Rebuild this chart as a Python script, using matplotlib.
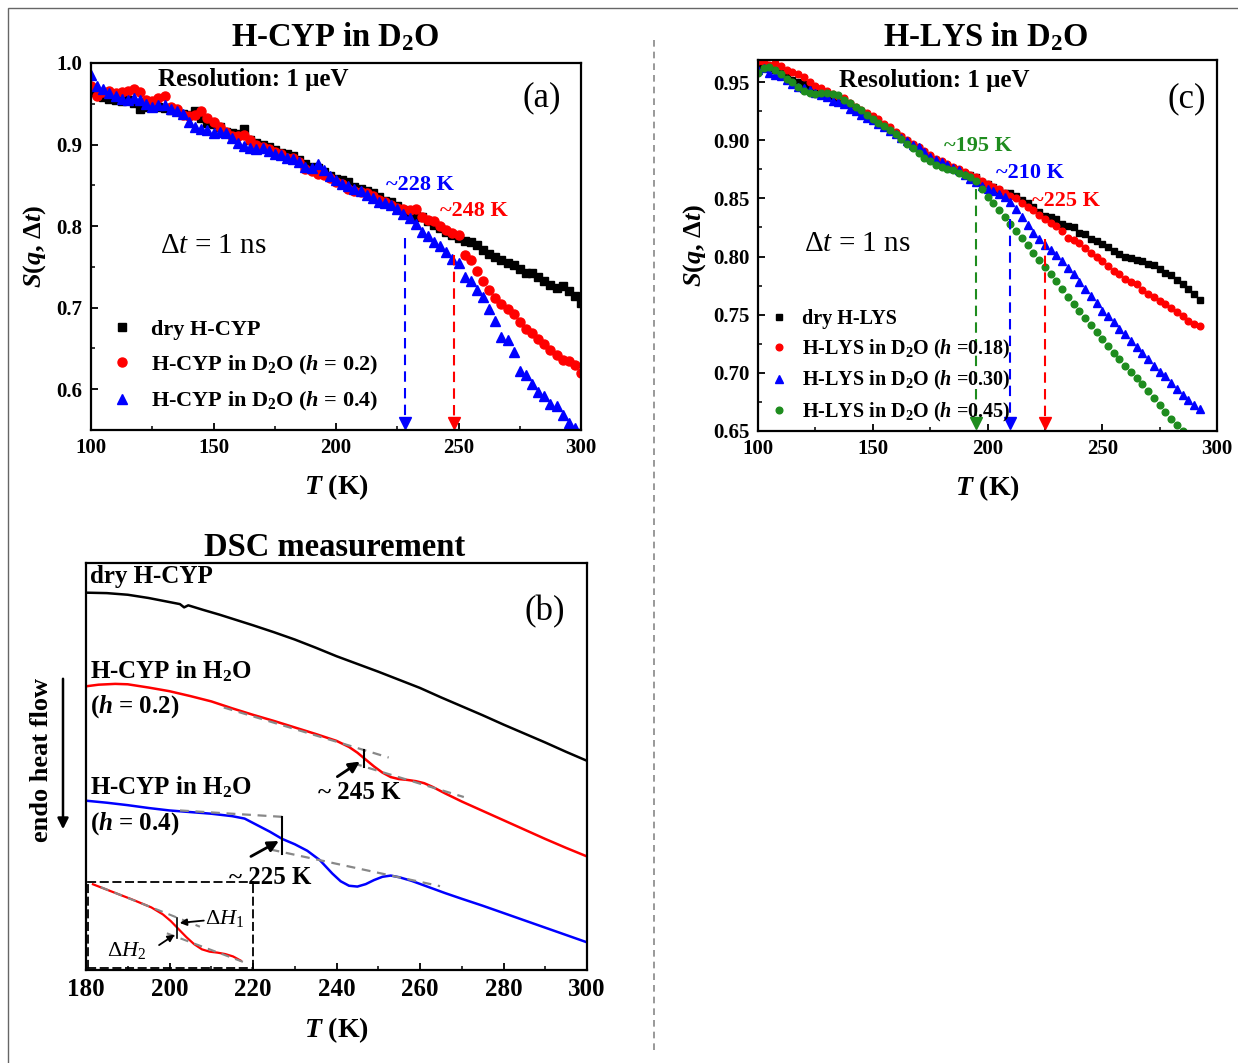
import numpy as np
import matplotlib
matplotlib.use("Agg")
import matplotlib.pyplot as plt
from matplotlib.patches import Rectangle, FancyArrowPatch
from matplotlib.lines import Line2D

plt.rcParams['font.family'] = ['Liberation Serif', 'DejaVu Serif']
plt.rcParams['mathtext.fontset'] = 'custom'
plt.rcParams['mathtext.rm'] = 'Liberation Serif'
plt.rcParams['mathtext.it'] = 'Liberation Serif:italic'
plt.rcParams['mathtext.bf'] = 'Liberation Serif:bold'
plt.rcParams['mathtext.bfit'] = 'Liberation Serif:italic:bold'

# ---------------- panel (a): H-CYP in D2O ----------------
t_cyp = np.arange(100, 300.1, 2.5)
s_cyp_dry = [0.965, 0.962, 0.958, 0.956, 0.955, 0.953, 0.955, 0.951, 0.944, 0.946,
             0.948, 0.946, 0.945, 0.942, 0.941, 0.938, 0.936, 0.941, 0.932, 0.926,
             0.925, 0.921, 0.916, 0.914, 0.913, 0.919, 0.906, 0.902, 0.900, 0.897,
             0.893, 0.890, 0.888, 0.886, 0.881, 0.876, 0.873, 0.871, 0.866, 0.862,
             0.858, 0.857, 0.854, 0.848, 0.845, 0.843, 0.840, 0.836, 0.831, 0.829,
             0.825, 0.820, 0.816, 0.813, 0.811, 0.806, 0.801, 0.798, 0.793, 0.789,
             0.786, 0.782, 0.780, 0.777, 0.771, 0.766, 0.762, 0.758, 0.755, 0.752,
             0.748, 0.743, 0.742, 0.737, 0.733, 0.728, 0.724, 0.726, 0.720, 0.714,
             0.706]
s_cyp_h02 = [0.972, 0.960, 0.965, 0.966, 0.963, 0.964, 0.966, 0.968, 0.964, 0.955,
             0.953, 0.957, 0.960, 0.946, 0.944, 0.936, 0.935, 0.936, 0.941, 0.932,
             0.928, 0.922, 0.915, 0.911, 0.910, 0.912, 0.906, 0.899, 0.897, 0.895,
             0.891, 0.888, 0.884, 0.883, 0.878, 0.870, 0.867, 0.864, 0.863, 0.859,
             0.854, 0.852, 0.846, 0.843, 0.842, 0.840, 0.837, 0.832, 0.829, 0.826,
             0.822, 0.821, 0.820, 0.821, 0.811, 0.808, 0.806, 0.800, 0.795, 0.792,
             0.789, 0.765, 0.758, 0.745, 0.733, 0.722, 0.712, 0.705, 0.698, 0.692,
             0.683, 0.674, 0.669, 0.662, 0.656, 0.648, 0.642, 0.636, 0.635, 0.630,
             0.620]
s_cyp_h04 = [0.985, 0.972, 0.968, 0.963, 0.960, 0.956, 0.955, 0.957, 0.955, 0.950,
             0.946, 0.949, 0.948, 0.944, 0.941, 0.938, 0.928, 0.922, 0.919, 0.918,
             0.914, 0.916, 0.914, 0.908, 0.902, 0.898, 0.896, 0.894, 0.896, 0.892,
             0.889, 0.887, 0.883, 0.882, 0.878, 0.873, 0.871, 0.876, 0.869, 0.862,
             0.856, 0.852, 0.849, 0.845, 0.843, 0.838, 0.834, 0.829, 0.828, 0.826,
             0.821, 0.815, 0.810, 0.803, 0.793, 0.788, 0.780, 0.775, 0.768, 0.760,
             0.755, 0.738, 0.733, 0.722, 0.713, 0.698, 0.684, 0.664, 0.660, 0.646,
             0.622, 0.617, 0.607, 0.597, 0.592, 0.582, 0.580, 0.568, 0.558, 0.553,
             0.549]
cyp_onset_t = [228, 248]
cyp_onset_s = [0.786, 0.765]

# ---------------- panel (c): H-LYS in D2O ----------------
t_lys = np.arange(100, 292.6, 2.5)
s_lys_dry = [0.965, 0.963, 0.962, 0.960, 0.958, 0.955, 0.952, 0.950, 0.948, 0.946,
             0.944, 0.942, 0.940, 0.938, 0.936, 0.934, 0.931, 0.926, 0.924, 0.921,
             0.918, 0.915, 0.912, 0.908, 0.905, 0.903, 0.899, 0.896, 0.893, 0.890,
             0.886, 0.883, 0.880, 0.878, 0.876, 0.873, 0.871, 0.870, 0.868, 0.864,
             0.862, 0.860, 0.857, 0.855, 0.855, 0.852, 0.849, 0.846, 0.843, 0.838,
             0.835, 0.834, 0.832, 0.828, 0.826, 0.825, 0.820, 0.819, 0.815, 0.813,
             0.811, 0.808, 0.805, 0.802, 0.800, 0.799, 0.797, 0.796, 0.794, 0.793,
             0.789, 0.786, 0.784, 0.780, 0.776, 0.772, 0.768, 0.763]
s_lys_h018 = [0.968, 0.967, 0.965, 0.966, 0.964, 0.960, 0.959, 0.957, 0.954, 0.950,
              0.947, 0.945, 0.942, 0.940, 0.938, 0.936, 0.932, 0.929, 0.926, 0.923,
              0.921, 0.918, 0.914, 0.911, 0.907, 0.904, 0.900, 0.897, 0.894, 0.891,
              0.887, 0.884, 0.882, 0.880, 0.877, 0.875, 0.873, 0.870, 0.868, 0.865,
              0.862, 0.860, 0.858, 0.855, 0.852, 0.850, 0.846, 0.843, 0.840, 0.836,
              0.832, 0.829, 0.826, 0.822, 0.816, 0.814, 0.812, 0.807, 0.803, 0.800,
              0.796, 0.792, 0.788, 0.785, 0.781, 0.778, 0.776, 0.771, 0.768, 0.765,
              0.762, 0.759, 0.756, 0.752, 0.749, 0.745, 0.742, 0.740]
s_lys_h030 = [0.960, 0.962, 0.958, 0.956, 0.955, 0.952, 0.948, 0.946, 0.945, 0.943,
              0.941, 0.939, 0.937, 0.934, 0.933, 0.931, 0.927, 0.925, 0.922, 0.919,
              0.917, 0.914, 0.911, 0.908, 0.905, 0.902, 0.899, 0.896, 0.894, 0.890,
              0.886, 0.883, 0.881, 0.879, 0.876, 0.874, 0.870, 0.867, 0.864, 0.861,
              0.858, 0.856, 0.854, 0.851, 0.847, 0.841, 0.834, 0.827, 0.820, 0.815,
              0.810, 0.806, 0.801, 0.796, 0.790, 0.785, 0.778, 0.772, 0.766, 0.760,
              0.753, 0.749, 0.744, 0.738, 0.733, 0.727, 0.722, 0.717, 0.712, 0.706,
              0.701, 0.697, 0.691, 0.686, 0.681, 0.677, 0.672, 0.669]
s_lys_h045 = [0.958, 0.962, 0.963, 0.960, 0.957, 0.953, 0.950, 0.946, 0.942, 0.941,
              0.940, 0.941, 0.941, 0.940, 0.939, 0.935, 0.932, 0.929, 0.926, 0.922,
              0.918, 0.915, 0.912, 0.909, 0.905, 0.901, 0.897, 0.893, 0.889, 0.885,
              0.882, 0.879, 0.877, 0.875, 0.874, 0.872, 0.870, 0.868, 0.865, 0.858,
              0.851, 0.846, 0.840, 0.834, 0.828, 0.822, 0.816, 0.810, 0.803, 0.797,
              0.791, 0.785, 0.779, 0.772, 0.765, 0.759, 0.753, 0.747, 0.741, 0.735,
              0.729, 0.723, 0.717, 0.712, 0.706, 0.701, 0.696, 0.690, 0.684, 0.678,
              0.672, 0.666, 0.660, 0.655, 0.650, 0.645, 0.640, 0.635]
lys_onset_t = [195, 210, 225]
lys_onset_s = [0.858, 0.832, 0.815]

# ---------------- panel (b): DSC ----------------
t_dsc_dry = [180.5, 185, 190, 195, 200, 202.5, 203.5, 204.5, 208, 212, 216, 220, 225, 230,
             235, 240, 245, 250, 255, 260, 265, 270, 275, 280, 285, 290, 295, 300]
q_dsc_dry = [0.927, 0.926, 0.922, 0.914, 0.904, 0.899, 0.891, 0.896, 0.885, 0.873, 0.860,
             0.847, 0.830, 0.812, 0.792, 0.771, 0.752, 0.733, 0.713, 0.693, 0.670, 0.648,
             0.626, 0.603, 0.581, 0.559, 0.536, 0.514]
t_dsc_h02 = [180, 183, 187, 190, 195, 200, 205, 210, 215, 220, 225, 230, 235, 240, 243, 245,
             247, 249, 251, 253, 255, 257, 259, 261, 263, 266, 270, 275, 280, 285, 290, 295, 300]
q_dsc_h02 = [0.697, 0.701, 0.703, 0.702, 0.694, 0.685, 0.673, 0.660, 0.643, 0.627, 0.612,
             0.596, 0.580, 0.563, 0.548, 0.534, 0.517, 0.500, 0.485, 0.474, 0.469, 0.467,
             0.464, 0.459, 0.450, 0.434, 0.414, 0.391, 0.368, 0.345, 0.322, 0.300, 0.279]
t_dsc_h04 = [180, 185, 190, 195, 200, 205, 210, 215, 218, 221, 224, 227, 230, 233, 236, 239,
             241, 243, 245, 247, 249, 251, 253, 255, 258, 262, 266, 270, 275, 280, 285, 290,
             295, 300]
q_dsc_h04 = [0.416, 0.411, 0.405, 0.398, 0.392, 0.388, 0.384, 0.378, 0.372, 0.356, 0.340,
             0.322, 0.309, 0.293, 0.270, 0.237, 0.218, 0.207, 0.205, 0.211, 0.221, 0.229,
             0.232, 0.228, 0.219, 0.204, 0.189, 0.175, 0.158, 0.140, 0.122, 0.104, 0.086,
             0.068]
# tangent construction lines (T, heat flow)
tan_h02_up = ([213, 252.5], [0.645, 0.522])
tan_h02_lo = ([244, 270.5], [0.508, 0.425])
tan_h04_up = ([202.5, 227.5], [0.392, 0.376])
tan_h04_lo = ([224.2, 264.8], [0.296, 0.206])
tg_h02 = 246.5
tg_h04 = 227
inset_range = (225, 264)

bold = dict(fontweight='bold')
fig = plt.figure(figsize=(12.38, 10.63), dpi=100)
fig.patches.append(Rectangle((8 / 1238, -0.05), 1.2, 1.05 - 8 / 1063, transform=fig.transFigure,
                             fill=False, edgecolor='#666666', lw=1.0))
fig.add_artist(Line2D([654 / 1238, 654 / 1238], [0.012, 0.967], transform=fig.transFigure,
                      color='#888888', lw=1.2, ls=(0, (4, 3))))


def style_axes(ax, fs=15):
    for sp in ax.spines.values():
        sp.set_linewidth(1.6)
    ax.tick_params(which='both', direction='in', top=False, right=False)
    ax.tick_params(which='major', length=5, width=1.3, labelsize=fs, pad=6)
    ax.tick_params(which='minor', length=3, width=1.1)
    for lab in ax.get_xticklabels() + ax.get_yticklabels():
        lab.set_fontweight('bold')


# ---- (a)
ax_a = fig.add_axes([91 / 1238, 1 - 430 / 1063, 490 / 1238, 367 / 1063])
ax_a.plot(t_cyp, s_cyp_dry, 's', color='black', ms=6, label='dry H-CYP')
ax_a.plot(t_cyp, s_cyp_h02, 'o', color='#ff0000', ms=6.5, label='H-CYP in D$_\\mathbf{2}$O ($\\mathbfit{h}$ = 0.2)')
ax_a.plot(t_cyp, s_cyp_h04, '^', color='#0000ff', ms=7, label='H-CYP in D$_\\mathbf{2}$O ($\\mathbfit{h}$ = 0.4)')
ax_a.set_xlim(100, 300)
ax_a.set_ylim(0.55, 1.0)
ax_a.set_xticks([100, 150, 200, 250, 300])
ax_a.set_xticks([125, 175, 225, 275], minor=True)
ax_a.set_yticks([0.6, 0.7, 0.8, 0.9, 1.0])
ax_a.set_yticks([0.65, 0.75, 0.85, 0.95], minor=True)
ax_a.set_yticklabels(['0.6', '0.7', '0.8', '0.9', '1.0'])
style_axes(ax_a)
for t0, s0, c in zip(cyp_onset_t, cyp_onset_s, ['#0000ff', '#ff0000']):
    ax_a.plot([t0, t0], [s0, 0.562], ls=(0, (5, 3)), color=c, lw=1.5)
    ax_a.plot(t0, 0.558, marker='v', color=c, ms=9, clip_on=False)
ax_a.text(220.5, 0.85, '~228 K', color='#0000ff', fontsize=16, va='center', **bold)
ax_a.text(242.5, 0.819, '~248 K', color='#ff0000', fontsize=16, va='center', **bold)
ax_a.text(127.5, 0.98, 'Resolution: 1 μeV', fontsize=18, va='center', **bold)
ax_a.text(284, 0.957, '(a)', fontsize=25, ha='center', va='center')
ax_a.text(128, 0.776, 'Δ$\\mathit{t}$ = 1 ns', fontsize=21, va='center')
ax_a.legend(loc='upper left', bbox_to_anchor=(0.02, 0.325), frameon=False,
            prop={'weight': 'bold', 'size': 16}, handletextpad=0.75, labelspacing=0.6,
            handlelength=1.1, borderaxespad=0)
ax_a.set_xlabel('$\\mathbfit{T}$ (K)', fontsize=20, labelpad=10, **bold)
ax_a.set_ylabel('$\\mathbfit{S}$($\\mathbfit{q}$, Δ$\\mathbfit{t}$)', fontsize=19, labelpad=6, **bold)

# ---- (c)
ax_c = fig.add_axes([758 / 1238, 1 - 431 / 1063, 459 / 1238, 371 / 1063])
ax_c.plot(t_lys, s_lys_dry, 's', color='black', ms=4.8, label='dry H-LYS')
ax_c.plot(t_lys, s_lys_h018, 'o', color='#ff0000', ms=4.8, label='H-LYS in D$_\\mathbf{2}$O ($\\mathbfit{h}$ =0.18)')
ax_c.plot(t_lys, s_lys_h030, '^', color='#0000ff', ms=5.3, label='H-LYS in D$_\\mathbf{2}$O ($\\mathbfit{h}$ =0.30)')
ax_c.plot(t_lys, s_lys_h045, 'o', color='#1e8c1e', ms=4.8, label='H-LYS in D$_\\mathbf{2}$O ($\\mathbfit{h}$ =0.45)')
ax_c.set_xlim(100, 300)
ax_c.set_ylim(0.65, 0.969)
ax_c.set_xticks([100, 150, 200, 250, 300])
ax_c.set_xticks([125, 175, 225, 275], minor=True)
ax_c.set_yticks([0.65, 0.70, 0.75, 0.80, 0.85, 0.90, 0.95])
ax_c.set_yticks([0.675, 0.725, 0.775, 0.825, 0.875, 0.925], minor=True)
ax_c.set_yticklabels(['0.65', '0.70', '0.75', '0.80', '0.85', '0.90', '0.95'])
style_axes(ax_c)
for t0, s0, c in zip(lys_onset_t, lys_onset_s, ['#1e8c1e', '#0000ff', '#ff0000']):
    ax_c.plot([t0, t0], [s0, 0.66], ls=(0, (5, 3)), color=c, lw=1.5)
    ax_c.plot(t0, 0.657, marker='v', color=c, ms=9, clip_on=False)
ax_c.text(181, 0.895, '~195 K', color='#1e8c1e', fontsize=16, va='center', **bold)
ax_c.text(203.5, 0.872, '~210 K', color='#0000ff', fontsize=16, va='center', **bold)
ax_c.text(219.5, 0.848, '~225 K', color='#ff0000', fontsize=16, va='center', **bold)
ax_c.text(135.5, 0.951, 'Resolution: 1 μeV', fontsize=18, va='center', **bold)
ax_c.text(287, 0.936, '(c)', fontsize=25, ha='center', va='center')
ax_c.text(120, 0.811, 'Δ$\\mathit{t}$ = 1 ns', fontsize=21, va='center')
ax_c.legend(loc='upper left', bbox_to_anchor=(0.005, 0.35), frameon=False,
            prop={'weight': 'bold', 'size': 14.5}, handletextpad=0.55, labelspacing=0.42,
            handlelength=1.1, borderaxespad=0)
ax_c.set_xlabel('$\\mathbfit{T}$ (K)', fontsize=20, labelpad=10, **bold)
ax_c.set_ylabel('$\\mathbfit{S}$($\\mathbfit{q}$, Δ$\\mathbfit{t}$)', fontsize=19, labelpad=4, **bold)

# ---- (b)
ax_b = fig.add_axes([86 / 1238, 1 - 970 / 1063, 501 / 1238, 407 / 1063])
ax_b.plot(t_dsc_dry, q_dsc_dry, color='black', lw=1.8)
ax_b.plot(t_dsc_h02, q_dsc_h02, color='#ff0000', lw=1.8)
ax_b.plot(t_dsc_h04, q_dsc_h04, color='#0000ff', lw=1.8)
for tx, ty in [tan_h02_up, tan_h02_lo, tan_h04_up, tan_h04_lo]:
    ax_b.plot(tx, ty, color='#888888', lw=1.6, ls=(0, (4, 3)))
ax_b.plot([tg_h02, tg_h02], [0.498, 0.540], color='black', lw=1.5)
ax_b.plot([tg_h04, tg_h04], [0.285, 0.377], color='black', lw=1.5)
arrow = dict(arrowstyle='-|>', color='black', lw=2, mutation_scale=16, shrinkA=0, shrinkB=0)
ax_b.annotate('', xy=(245.6, 0.512), xytext=(240.2, 0.475), arrowprops=arrow)
ax_b.annotate('', xy=(226.2, 0.317), xytext=(219.5, 0.279), arrowprops=arrow)
ax_b.text(245.5, 0.437, '~ 245 K', fontsize=18, ha='center', va='center', **bold)
ax_b.text(224.2, 0.228, '~ 225 K', fontsize=18, ha='center', va='center', **bold)
ax_b.text(181, 0.966, 'dry H-CYP', fontsize=18, va='center', **bold)
ax_b.text(181, 0.735, 'H-CYP in H$_\\mathbf{2}$O', fontsize=18, va='center', **bold)
ax_b.text(181, 0.646, '($\\mathbfit{h}$ = 0.2)', fontsize=18, va='center', **bold)
ax_b.text(181, 0.450, 'H-CYP in H$_\\mathbf{2}$O', fontsize=18, va='center', **bold)
ax_b.text(181, 0.360, '($\\mathbfit{h}$ = 0.4)', fontsize=18, va='center', **bold)
ax_b.text(289.8, 0.88, '(b)', fontsize=25, ha='center', va='center')
ax_b.set_xlim(180, 300)
ax_b.set_ylim(0, 1)
ax_b.set_xticks([180, 200, 220, 240, 260, 280, 300])
ax_b.set_xticks([190, 210, 230, 250, 270, 290], minor=True)
ax_b.set_yticks([])
style_axes(ax_b, fs=18)
ax_b.set_xlabel('$\\mathbfit{T}$ (K)', fontsize=20, labelpad=10, **bold)

# inset: zoom of the h = 0.2 transition
t_in = np.array(t_dsc_h02)
q_in = np.array(q_dsc_h02)
sel = (t_in >= inset_range[0]) & (t_in <= inset_range[1])
ins = ax_b.inset_axes([180.5, 0.004, 39.6, 0.211], transform=ax_b.transData)
ins.patch.set_alpha(0)
ins.plot(t_in[sel], q_in[sel], color='#ff0000', lw=1.6)
ins.plot([227, 252.5], [0.606, 0.522], color='#888888', lw=1.5, ls=(0, (4, 3)))
ins.plot([244, 264], [0.508, 0.446], color='#888888', lw=1.5, ls=(0, (4, 3)))
ins.plot([tg_h02, tg_h02], [0.498, 0.540], color='black', lw=1.2)
ins.set_xlim(223.75, 266.25)
ins.set_ylim(0.4336, 0.6158)
ins.set_xticks([])
ins.set_yticks([])
for sp in ins.spines.values():
    sp.set_linestyle((0, (4, 3)))
    sp.set_linewidth(1.3)
small = dict(arrowstyle='-|>', color='black', lw=1.3, mutation_scale=10, shrinkA=0, shrinkB=0)
ins.annotate('', xy=(247.3, 0.530), xytext=(253.5, 0.535), arrowprops=small)
ins.annotate('', xy=(246.0, 0.505), xytext=(242.0, 0.483), arrowprops=small)
ins.text(253.8, 0.540, 'Δ$\\mathit{H}_1$', fontsize=16, va='center')
ins.text(228.5, 0.472, 'Δ$\\mathit{H}_2$', fontsize=16, va='center')

# titles and side label
fig.text(335 / 1238, 1 - 37 / 1063, 'H-CYP in D$_\\mathbf{2}$O', fontsize=23.5, ha='center', va='center', **bold)
fig.text(986 / 1238, 1 - 37 / 1063, 'H-LYS in D$_\\mathbf{2}$O', fontsize=23.5, ha='center', va='center', **bold)
fig.text(335 / 1238, 1 - 547 / 1063, 'DSC measurement', fontsize=23.5, ha='center', va='center', **bold)
fig.text(42 / 1238, 1 - 760 / 1063, 'endo heat flow', fontsize=19, rotation=90, ha='center', va='center', **bold)
fig.add_artist(FancyArrowPatch((63 / 1238, 1 - 676 / 1063), (63 / 1238, 1 - 832 / 1063),
                               transform=fig.transFigure, arrowstyle='-|>',
                               mutation_scale=16, lw=1.8, color='black'))

fig.savefig('out.png', dpi=100)
